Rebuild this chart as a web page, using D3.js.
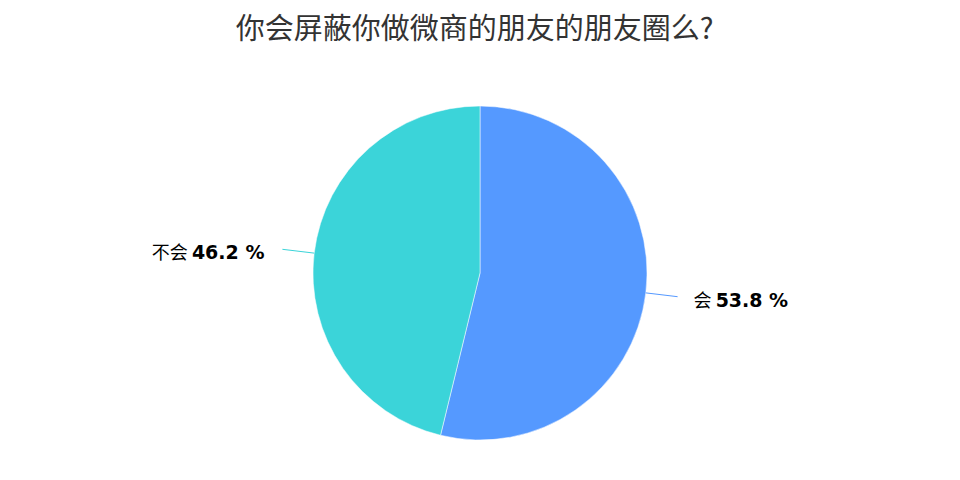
<!DOCTYPE html>
<html>
<head>
<meta charset="utf-8">
<script src="https://cdn.jsdelivr.net/npm/d3@7"></script>
<style>
  body { margin: 0; background: #fff; }
  svg { display: block; }
</style>
</head>
<body>
<svg id="chart"></svg>
<script>
const title = '你会屏蔽你做微商的朋友的朋友圈么?';
const categories = ['会', '不会'];
const values = [53.8, 46.2];
const colors = ['#5599ff', '#3bd4d9'];

const w = 960, h = 480;
const cx = 480, cy = 273, r = 167;

const svg = d3.select('#chart')
  .attr('width', w)
  .attr('height', h);

svg.append('text')
  .attr('x', 474.5)
  .attr('y', 39)
  .attr('text-anchor', 'middle')
  .style('font-family', '"Noto Sans CJK SC", sans-serif')
  .style('font-size', '29px')
  .style('fill', '#333')
  .text(title);

const data = categories.map((c, i) => ({name: c, value: values[i], color: colors[i]}));

const pie = d3.pie().sort(null).value(d => d.value);
const arc = d3.arc().innerRadius(0).outerRadius(r);
const arcs = pie(data);

const g = svg.append('g').attr('transform', `translate(${cx},${cy})`);

g.selectAll('path')
  .data(arcs)
  .join('path')
  .attr('d', arc)
  .attr('fill', d => d.data.color)
  .attr('stroke', '#fff')
  .attr('stroke-width', 0.5);

const pt = (a, rad) => [Math.sin(a) * rad, -Math.cos(a) * rad];

g.selectAll('line.leader')
  .data(arcs)
  .join('line')
  .attr('class', 'leader')
  .each(function (d) {
    const m = (d.startAngle + d.endAngle) / 2;
    const p0 = pt(m, r), p1 = pt(m, r + 32);
    d3.select(this)
      .attr('x1', p0[0]).attr('y1', p0[1])
      .attr('x2', p1[0]).attr('y2', p1[1]);
  })
  .attr('stroke', d => d.data.color)
  .attr('stroke-width', 1);

const labels = g.selectAll('text.lbl')
  .data(arcs)
  .join('text')
  .attr('class', 'lbl')
  .each(function (d) {
    const m = (d.startAngle + d.endAngle) / 2;
    const p = pt(m, r + 32);
    const right = Math.sin(m) > 0;
    d3.select(this)
      .attr('x', p[0] + (right ? 16 : -18))
      .attr('y', p[1] + 10)
      .attr('text-anchor', right ? 'start' : 'end');
  })
  .style('fill', '#000');

labels.append('tspan')
  .style('font-family', '"Noto Sans CJK SC", sans-serif')
  .style('font-size', '18px')
  .text(d => d.data.name + ' ');
labels.append('tspan')
  .style('font-family', '"DejaVu Sans", sans-serif')
  .style('font-size', '19px')
  .style('font-weight', 'bold')
  .text(d => d3.format('.1f')(d.data.value) + ' %');
</script>
</body>
</html>
